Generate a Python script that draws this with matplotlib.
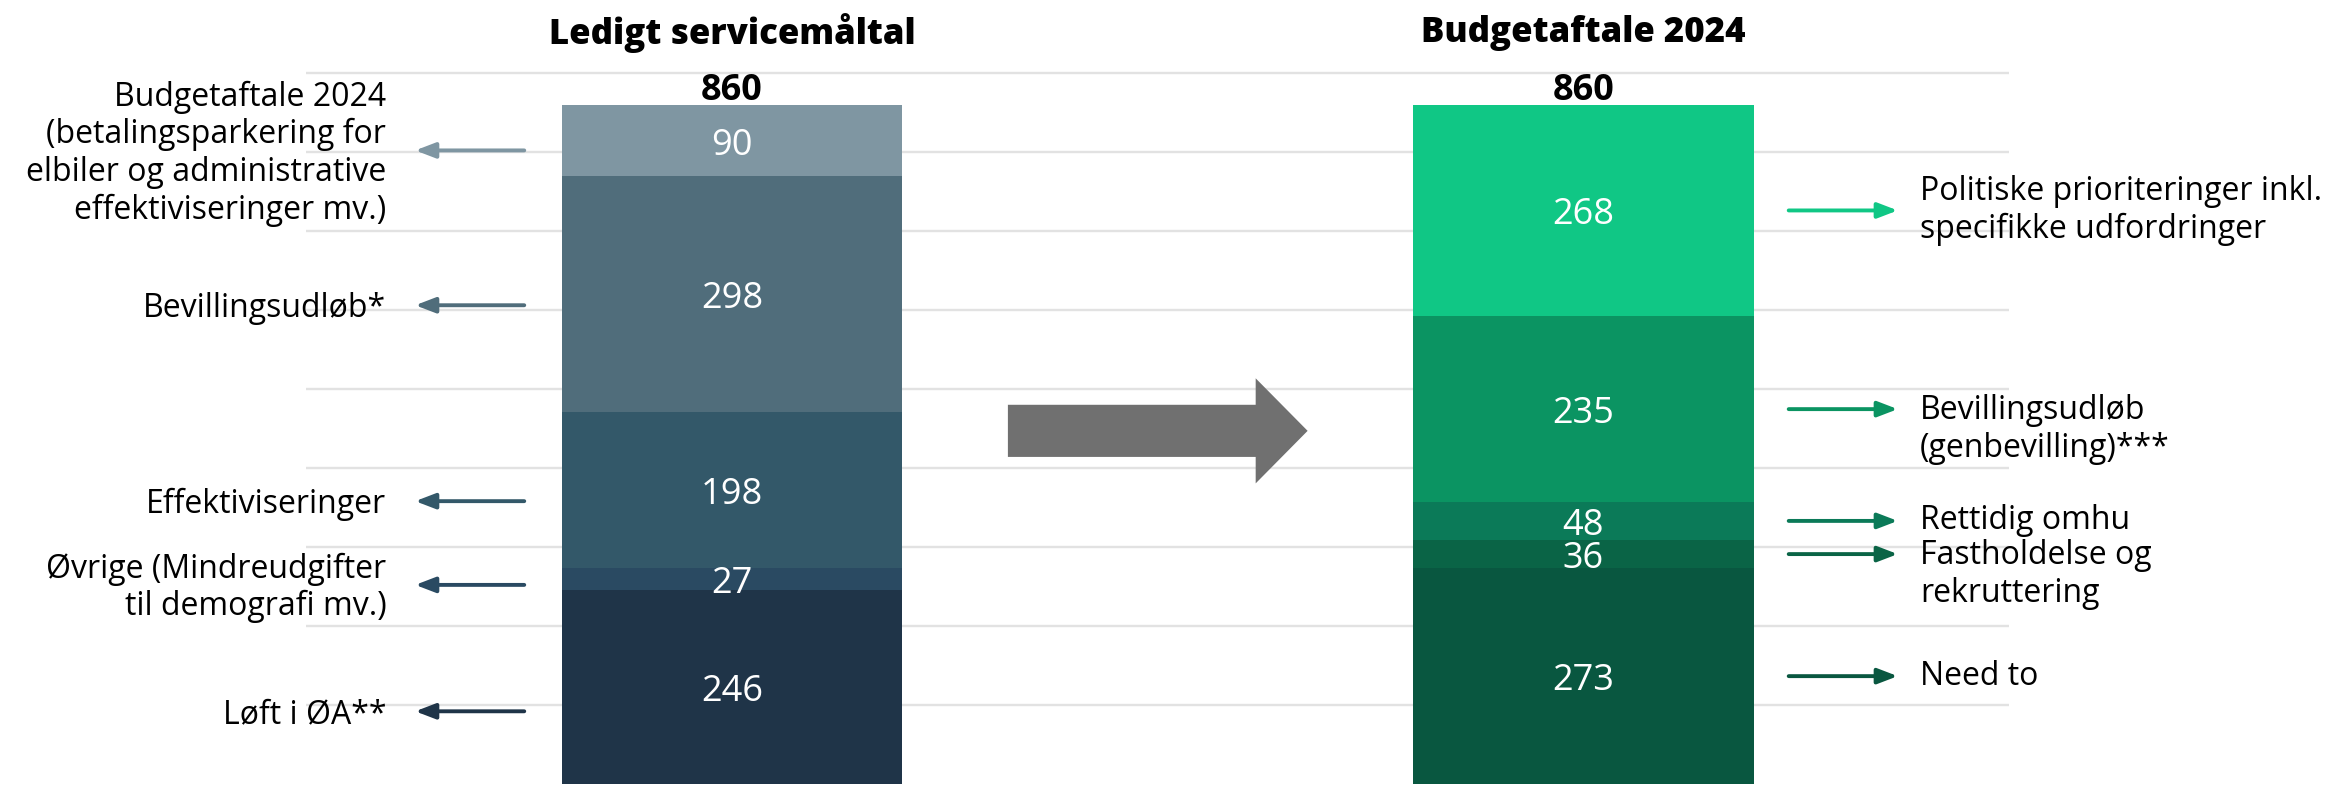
import matplotlib
matplotlib.use("Agg")
import matplotlib.pyplot as plt
from matplotlib.patches import FancyArrow
import numpy as np

# Bars: bottom to top
categories = ["Ledigt servicemåltal", "Budgetaftale 2024"]
totals = [860, 860]

left_labels = ["Løft i ØA**",
               "Øvrige (Mindreudgifter\ntil demografi mv.)",
               "Effektiviseringer",
               "Bevillingsudløb*",
               "Budgetaftale 2024\n(betalingsparkering for\nelbiler og administrative\neffektiviseringer mv.)"]
left_values = [246, 27, 198, 298, 90]
left_colors = ["#1f3448", "#2a4a62", "#335869", "#506d7b", "#7f96a2"]
left_arrow_y = [92, 252, 358, 606, 802]

right_labels = ["Need to",
                "Fastholdelse og\nrekruttering",
                "Rettidig omhu",
                "Bevillingsudløb\n(genbevilling)***",
                "Politiske prioriteringer inkl.\nspecifikke udfordringer"]
right_values = [273, 36, 48, 235, 268]
right_colors = ["#095740", "#0a6446", "#0b7a58", "#0b9462", "#10c785"]
# 'c' = text centred on arrow, 't' = first line on arrow
right_anchor = ["c", "t", "c", "t", "c"]

grid_ticks = [100, 200, 300, 400, 500, 600, 700, 800, 900]

plt.rcParams['font.family'] = ['Open Sans', 'DejaVu Sans']

fig = plt.figure(figsize=(23.46, 7.85), dpi=100)
ax = fig.add_axes([0, 0, 1, 1])
ax.set_xlim(-0.8597, 1.8955)
ax.set_ylim(-1.3, 992.4)
ax.axis("off")

ax.hlines(grid_ticks, -0.5, 1.5, color="#e2e2e2", lw=1.7, zorder=0)

bw = 0.4
x = np.arange(len(categories))
lab_fs = 23

def stack(xpos, values, colors):
    bottom = 0
    for v, c in zip(values, colors):
        ax.bar(xpos, v, bw, bottom=bottom, color=c, lw=0, zorder=2)
        ax.annotate(str(v), (xpos, bottom + v / 2), xytext=(0, -14),
                    textcoords="offset pixels", ha="center", va="baseline",
                    color="white", fontsize=26, zorder=3)
        bottom += v

stack(x[0], left_values, left_colors)
stack(x[1], right_values, right_colors)

for xi, t, name in zip(x, totals, categories):
    ax.annotate(str(t), (xi, t), xytext=(0, 14), textcoords="offset pixels",
                ha="center", va="center", fontsize=26, fontweight="bold")
    ax.text(xi, 950, name, ha="center", va="center", fontsize=25,
            fontweight=800)

# left annotations
for lab, y, c in zip(left_labels, left_arrow_y, left_colors):
    ax.annotate("", xy=(x[0] - 0.372, y), xytext=(x[0] - 0.244, y),
                arrowprops=dict(arrowstyle="-|>,head_length=0.6,head_width=0.23",
                                color=c, lw=2.8, mutation_scale=20,
                                shrinkA=0, shrinkB=0))
    ax.annotate(lab, (x[0] - 0.406, y), xytext=(0, -3),
                textcoords="offset pixels", ha="right", va="center",
                fontsize=lab_fs, linespacing=1.18)

# right annotations
bottom = 0
for lab, v, c, a in zip(right_labels, right_values, right_colors, right_anchor):
    y = bottom + v / 2
    bottom += v
    ax.annotate("", xy=(x[1] + 0.369, y), xytext=(x[1] + 0.241, y),
                arrowprops=dict(arrowstyle="-|>,head_length=0.6,head_width=0.23",
                                color=c, lw=2.8, mutation_scale=20,
                                shrinkA=0, shrinkB=0))
    if a == "c":
        ax.text(x[1] + 0.395, y, lab, ha="left", va="center", fontsize=lab_fs,
                linespacing=1.18)
    else:
        ax.annotate(lab, (x[1] + 0.395, y), xytext=(0, 15),
                    textcoords="offset pixels", ha="left", va="top",
                    fontsize=lab_fs, linespacing=1.18)

# big grey arrow between the bars
ax.add_patch(FancyArrow(0.324, 447, 0.352, 0, width=66, head_width=133,
                        head_length=0.061, length_includes_head=True,
                        color="#707070", lw=0, zorder=2))

fig.savefig("out.png", dpi=100)
